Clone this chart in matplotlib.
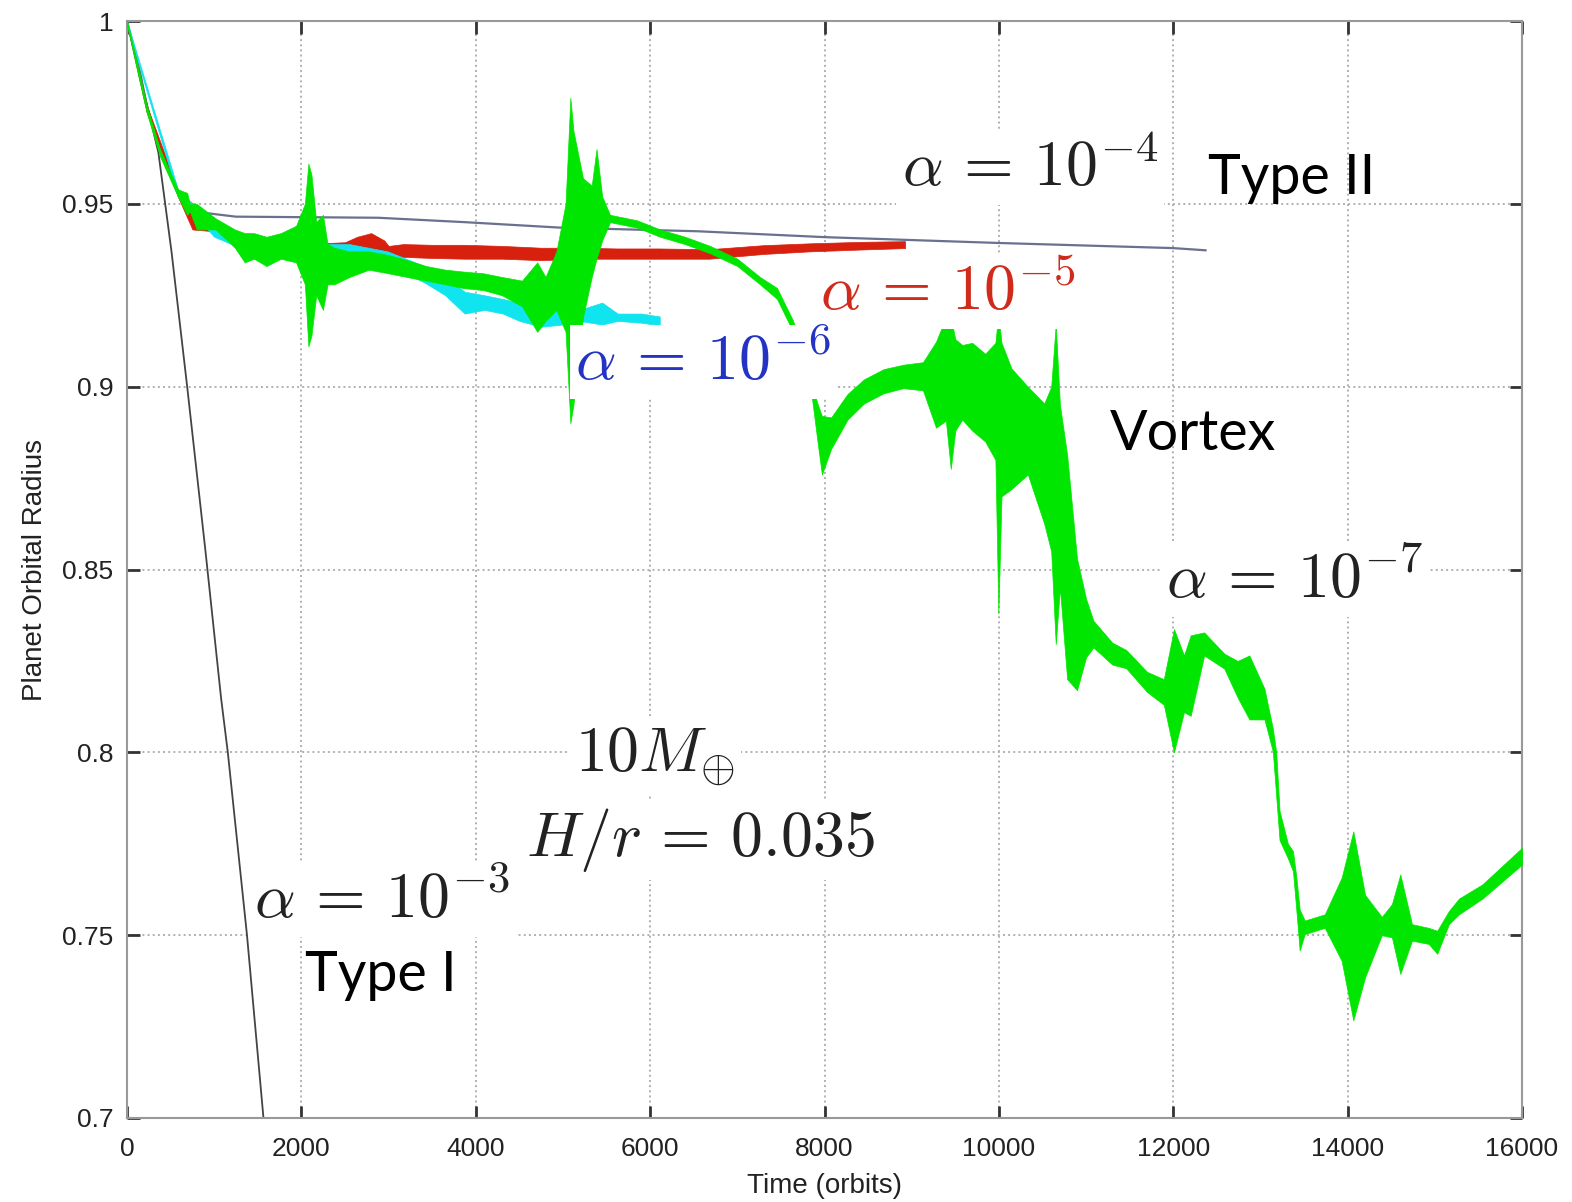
import numpy as np
import matplotlib.pyplot as plt

plt.rcParams['mathtext.fontset'] = 'cm'

# alpha = 1e-3 run (Type I migration)
t_a3 = [0, 150, 250, 360, 510, 690, 900, 1079, 1156, 1376, 1565]
r_a3 = [1.0, 0.985, 0.975, 0.964, 0.937, 0.9, 0.855, 0.8148, 0.8, 0.75, 0.7]

# alpha = 1e-4 run (Type II)
t_a4 = [0, 150, 225, 400, 583, 685, 900, 1248, 2880, 3871, 4968, 6550,
        8000, 10000, 12000, 12370]
r_a4 = [1.0, 0.986, 0.977, 0.963, 0.953, 0.951, 0.9475, 0.9465, 0.9462,
        0.945, 0.9435, 0.9425, 0.9409, 0.9393, 0.9379, 0.9373]

# alpha = 1e-5 run, min/max envelope of the oscillating radius
t_a5 = [0, 225, 583, 750, 1000, 1250, 1600, 2000, 2500, 2640, 2800, 2950,
        3000, 3170, 3500, 3871, 4300, 4750, 5200, 5627, 6100, 6680, 7300,
        7822, 8400, 8924]
lo_a5 = [0.999, 0.975, 0.952, 0.943, 0.9425, 0.939, 0.936, 0.936, 0.936,
         0.936, 0.9355, 0.9355, 0.935, 0.9355, 0.9352, 0.935, 0.935, 0.9346,
         0.935, 0.935, 0.935, 0.935, 0.9363, 0.937, 0.9375, 0.9379]
hi_a5 = [1.0, 0.977, 0.954, 0.947, 0.9445, 0.941, 0.939, 0.939, 0.9395,
         0.941, 0.942, 0.940, 0.9385, 0.939, 0.9388, 0.9388, 0.9385, 0.938,
         0.938, 0.9378, 0.9378, 0.9376, 0.9387, 0.9392, 0.9396, 0.9398]

# alpha = 1e-6 run
t_a6 = [0, 583, 1000, 1500, 2000, 2550, 2990, 3200, 3432, 3650, 3871, 4100,
        4310, 4500, 4750, 5000, 5188, 5450, 5627, 5900, 6110]
lo_a6 = [0.999, 0.952, 0.941, 0.936, 0.935, 0.936, 0.933, 0.931, 0.9282,
         0.925, 0.920, 0.921, 0.920, 0.918, 0.9164, 0.917, 0.918, 0.917,
         0.918, 0.9175, 0.9168]
hi_a6 = [1.0, 0.954, 0.944, 0.940, 0.939, 0.939, 0.937, 0.935, 0.9328,
         0.930, 0.926, 0.925, 0.924, 0.923, 0.9218, 0.921, 0.921, 0.923,
         0.920, 0.920, 0.9192]

# alpha = 1e-7 run (vortex-dominated)
t_a7 = [0, 120, 225, 378, 583, 690, 720, 800, 1017, 1237, 1350, 1456, 1600,
        1764, 1939, 2040, 2080, 2115, 2170, 2247, 2300, 2378, 2550, 2774,
        3000, 3212, 3430, 3651, 3850, 4090, 4300, 4530, 4705, 4800, 4925,
        5030, 5085, 5120, 5230, 5330, 5385, 5450, 5540, 5850, 6114, 6400,
        6687, 7000, 7260, 7455, 7640, 7750, 7850, 7925, 7970, 8076, 8264,
        8452, 8678, 8903, 9129, 9279, 9392, 9448, 9500, 9580, 9693, 9843,
        9960, 9994, 10030, 10144, 10332, 10520, 10600, 10652, 10700, 10783,
        10896, 11000, 11084, 11300, 11460, 11700, 11892, 12008, 12123, 12200,
        12354, 12585, 12738, 12873, 13046, 13142, 13181, 13219, 13315, 13373,
        13411, 13450, 13508, 13738, 13931, 14065, 14200, 14392, 14508, 14604,
        14738, 14930, 15027, 15161, 15277, 15546, 16000]
lo_a7 = [0.999, 0.986, 0.975, 0.963, 0.952, 0.947, 0.948, 0.943, 0.943,
         0.938, 0.934, 0.935, 0.933, 0.935, 0.934, 0.928, 0.911, 0.914,
         0.925, 0.921, 0.928, 0.928, 0.930, 0.932, 0.931, 0.930, 0.929,
         0.928, 0.927, 0.9264, 0.925, 0.922, 0.915, 0.918, 0.921, 0.915,
         0.890, 0.895, 0.919, 0.930, 0.935, 0.940, 0.945, 0.9435, 0.941,
         0.939, 0.9365, 0.933, 0.928, 0.924, 0.915, 0.907, 0.898, 0.884,
         0.876, 0.883, 0.891, 0.8954, 0.8982, 0.8996, 0.899, 0.8888, 0.8907,
         0.8775, 0.888, 0.891, 0.888, 0.885, 0.880, 0.838, 0.870, 0.872,
         0.876, 0.8625, 0.855, 0.8296, 0.845, 0.820, 0.817, 0.826, 0.8287,
         0.824, 0.823, 0.8165, 0.813, 0.800, 0.811, 0.810, 0.8265, 0.8229,
         0.815, 0.809, 0.809, 0.8002, 0.788, 0.776, 0.771, 0.7675, 0.757,
         0.7458, 0.7503, 0.752, 0.743, 0.7267, 0.7385, 0.750, 0.7494, 0.7394,
         0.7485, 0.7476, 0.7449, 0.753, 0.7557, 0.760, 0.7693]
hi_a7 = [1.0, 0.988, 0.977, 0.965, 0.954, 0.953, 0.950, 0.950, 0.946,
         0.943, 0.942, 0.942, 0.941, 0.942, 0.944, 0.950, 0.961, 0.958,
         0.945, 0.947, 0.939, 0.938, 0.937, 0.937, 0.936, 0.9346, 0.933,
         0.932, 0.9315, 0.931, 0.930, 0.929, 0.934, 0.930, 0.937, 0.950,
         0.979, 0.970, 0.957, 0.955, 0.965, 0.952, 0.947, 0.9455, 0.943,
         0.941, 0.9385, 0.935, 0.930, 0.927, 0.918, 0.910, 0.901, 0.895,
         0.892, 0.8916, 0.898, 0.902, 0.9048, 0.906, 0.9067, 0.9123, 0.919,
         0.919, 0.913, 0.9114, 0.912, 0.909, 0.912, 0.920, 0.912, 0.905,
         0.900, 0.8954, 0.900, 0.917, 0.895, 0.8813, 0.853, 0.842, 0.836,
         0.830, 0.828, 0.822, 0.820, 0.8337, 0.8265, 0.832, 0.8328, 0.827,
         0.825, 0.8265, 0.8174, 0.8065, 0.800, 0.784, 0.775, 0.773, 0.766,
         0.757, 0.754, 0.7557, 0.7657, 0.7784, 0.761, 0.755, 0.7585, 0.7666,
         0.753, 0.752, 0.7512, 0.7566, 0.760, 0.7639, 0.7739]

x_ticks = [0, 2000, 4000, 6000, 8000, 10000, 12000, 14000, 16000]
y_ticks = [0.7, 0.75, 0.8, 0.85, 0.9, 0.95, 1.0]
y_ticklabels = ['0.7', '0.75', '0.8', '0.85', '0.9', '0.95', '1']

GREEN = '#00e600'
RED = '#d8200f'
CYAN = '#10e4ee'

fig = plt.figure(figsize=(15.72, 12.02), dpi=100)
ax = fig.add_axes([0.0808, 0.0699, 0.8874, 0.9126])

ax.plot(t_a3, r_a3, color='#444444', lw=1.3, zorder=2)
ax.plot(t_a4, r_a4, color='#6a7090', lw=1.6, zorder=2)
ax.fill_between(t_a5, lo_a5, hi_a5, color=RED, lw=0.5, zorder=3)
ax.fill_between(t_a6, lo_a6, hi_a6, color=CYAN, lw=0.5, zorder=3)
ax.fill_between(t_a7, lo_a7, hi_a7, color=GREEN, lw=0.5, zorder=4)

ax.set_xlim(0, 16000)
ax.set_ylim(0.7, 1.0)
ax.set_xticks(x_ticks)
ax.set_xticklabels([str(v) for v in x_ticks])
ax.set_yticks(y_ticks)
ax.set_yticklabels(y_ticklabels)
ax.tick_params(direction='in', length=9, width=2, color='#333333',
               labelsize=19, labelcolor='#222222', top=True, right=True)
ax.tick_params(axis='x', pad=14)
ax.tick_params(axis='y', pad=10)
for lab in ax.get_xticklabels() + ax.get_yticklabels():
    lab.set_family('Liberation Sans')
for sp in ax.spines.values():
    sp.set_color('#999999')
    sp.set_linewidth(1.5)
ax.grid(True, color='#b0b0b0', linestyle=':', linewidth=1.4)
ax.set_axisbelow(True)

ax.set_xlabel('Time (orbits)', fontsize=20, family='Liberation Sans',
              color='#222222', labelpad=8)
ax.set_ylabel('Planet Orbital Radius', fontsize=20, family='Liberation Sans',
              color='#222222', labelpad=10)

box = dict(facecolor='white', edgecolor='none', pad=4)
math_size = 46
label_font = 'Lato'

ax.text(10357, 0.9598, r'$\alpha\,=\,10^{-4}$', fontsize=math_size,
        color='#222222', ha='center', va='center', bbox=box, zorder=6)
ax.text(13363, 0.957, 'Type II', fontsize=40, family=label_font,
        ha='center', va='center', zorder=6)
ax.text(9417, 0.9259, r'$\alpha\,=\,10^{-5}$', fontsize=math_size,
        color='#d02a1a', ha='center', va='center', bbox=box, zorder=6)
ax.text(6607, 0.9067, r'$\alpha\,=\,10^{-6}$', fontsize=math_size,
        color='#2333c4', ha='center', va='center', bbox=box, zorder=6)
ax.text(12227, 0.8868, 'Vortex', fontsize=40, family=label_font,
        ha='center', va='center', zorder=6)
ax.text(13385, 0.847, r'$\alpha\,=\,10^{-7}$', fontsize=math_size,
        color='#222222', ha='center', va='center', bbox=box, zorder=6)
ax.text(6056, 0.7987, r'$10M_{\oplus}$', fontsize=math_size,
        color='#222222', ha='center', va='center', bbox=box, zorder=6)
ax.text(6572, 0.776, r'$H/r\,=\,0.035$', fontsize=math_size,
        color='#222222', ha='center', va='center', bbox=box, zorder=6)
ax.text(2925, 0.7596, r'$\alpha\,=\,10^{-3}$', fontsize=math_size,
        color='#222222', ha='center', va='center', bbox=box, zorder=6)
ax.text(2913, 0.739, 'Type I', fontsize=40, family=label_font,
        ha='center', va='center', zorder=6)

fig.savefig('out.png', dpi=100)
